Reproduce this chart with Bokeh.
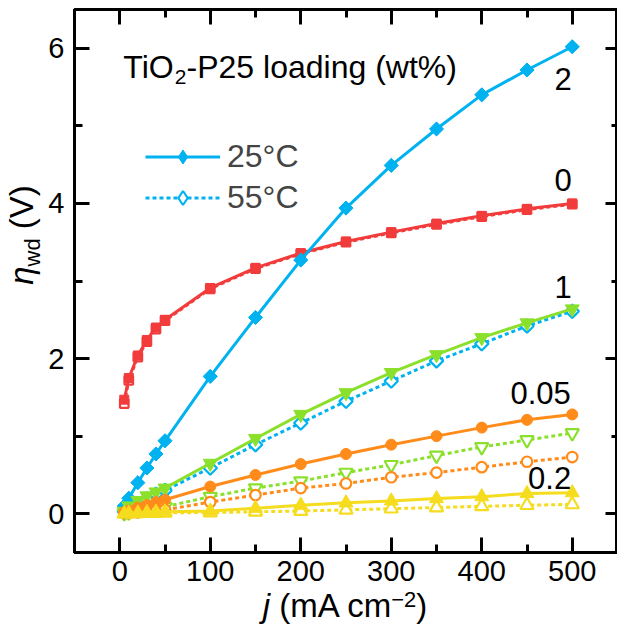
import numpy as np
from bokeh.plotting import figure
from bokeh.layouts import row, column
from bokeh.models import (Range1d, LinearAxis, SingleIntervalTicker, Label,
                          Legend, LegendItem, Div, CustomJSTickFormatter)
from bokeh.embed import file_html
from bokeh.resources import INLINE

# ---------------- data ----------------
j_mA_cm2 = [5, 10, 20, 30, 40, 50, 100, 150, 200, 250, 300, 350, 400, 450, 500]

eta_0wt_25C = [1.47, 1.75, 2.04, 2.24, 2.40, 2.50, 2.91, 3.17, 3.36, 3.51, 3.63, 3.74, 3.84, 3.93, 4.00]
eta_0wt_55C = [1.42, 1.72, 2.02, 2.22, 2.38, 2.49, 2.90, 3.16, 3.35, 3.50, 3.62, 3.73, 3.83, 3.92, 3.99]
eta_2wt_25C = [0.10, 0.20, 0.40, 0.59, 0.77, 0.94, 1.77, 2.53, 3.27, 3.94, 4.49, 4.96, 5.40, 5.72, 6.02]
eta_2wt_55C = [0.03, 0.07, 0.13, 0.19, 0.25, 0.30, 0.59, 0.89, 1.17, 1.45, 1.71, 1.97, 2.19, 2.42, 2.61]
eta_1wt_25C = [0.03, 0.10, 0.17, 0.23, 0.28, 0.33, 0.65, 0.97, 1.28, 1.56, 1.82, 2.05, 2.27, 2.46, 2.64]
eta_1wt_55C = [0.01, 0.02, 0.04, 0.06, 0.08, 0.09, 0.22, 0.33, 0.42, 0.53, 0.63, 0.75, 0.86, 0.95, 1.04]
eta_005wt_25C = [0.02, 0.04, 0.08, 0.11, 0.15, 0.18, 0.35, 0.50, 0.64, 0.77, 0.89, 1.00, 1.11, 1.21, 1.28]
eta_005wt_55C = [0.005, 0.01, 0.02, 0.03, 0.04, 0.05, 0.15, 0.24, 0.33, 0.39, 0.47, 0.53, 0.60, 0.67, 0.73]
eta_02wt_25C = [0.0, 0.005, 0.01, 0.015, 0.02, 0.025, 0.035, 0.07, 0.11, 0.14, 0.165, 0.195, 0.22, 0.26, 0.27]
eta_02wt_55C = [0.0, 0.003, 0.005, 0.008, 0.01, 0.012, 0.015, 0.025, 0.035, 0.05, 0.065, 0.08, 0.095, 0.11, 0.12]

loading_labels = ["2", "0", "1", "0.05", "0.2"]
legend_labels = ["25°C", "55°C"]
title_parts = ["TiO", "2", "-P25 loading (wt%)"]
x_label_html = '<i>j</i> (mA cm<span style="font-size:22px;position:relative;top:-10px">\u22122</span>)'
y_label_html = '<i>\u03b7</i><span style="font-size:22px;position:relative;top:7px">wd</span> (V)'

# ---------------- styles ----------------
FONT = "Liberation Sans"
RED, BLUE, GREEN, ORANGE, YELLOW = "#F23C3C", "#00B2F0", "#8BE02C", "#FF8C1A", "#F5DC1E"

p = figure(width=573, height=593, x_range=Range1d(-50, 550), y_range=Range1d(-0.5, 6.5),
           output_backend="svg", toolbar_location=None,
           min_border_left=30, min_border_right=0, min_border_top=9, min_border_bottom=41)
p.background_fill_color = "white"
p.border_fill_color = "white"
p.xgrid.visible = False
p.ygrid.visible = False
p.outline_line_color = "black"
p.outline_line_width = 3


def style_axis(ax, tick_in, minor_in, labels=True):
    ax.axis_line_width = 3
    ax.axis_line_color = "black"
    ax.major_tick_in = tick_in
    ax.major_tick_out = 0
    ax.minor_tick_in = minor_in
    ax.minor_tick_out = 0
    ax.major_tick_line_width = 3
    ax.minor_tick_line_width = 3
    ax.major_tick_line_color = "black"
    ax.minor_tick_line_color = "black"
    ax.axis_label = None
    if labels:
        ax.major_label_text_font = FONT
        ax.major_label_text_font_size = "29px"
        ax.major_label_text_color = "black"
    else:
        ax.formatter = CustomJSTickFormatter(code="return ''")
        ax.major_label_text_font_size = "1px"
        ax.major_label_standoff = 0
        ax.axis_label_standoff = 0


p.xaxis[0].ticker = SingleIntervalTicker(interval=100, num_minor_ticks=2)
p.yaxis[0].ticker = SingleIntervalTicker(interval=2, num_minor_ticks=2)
style_axis(p.xaxis[0], 15, 8)
style_axis(p.yaxis[0], 15, 8)
p.xaxis[0].major_label_standoff = 8
p.yaxis[0].major_label_standoff = 10

top_ax = LinearAxis(ticker=SingleIntervalTicker(interval=100, num_minor_ticks=2))
style_axis(top_ax, 15, 8, labels=False)
p.add_layout(top_ax, "above")
right_ax = LinearAxis(ticker=SingleIntervalTicker(interval=2, num_minor_ticks=2))
style_axis(right_ax, 12, 6, labels=False)
p.add_layout(right_ax, "right")

# ---------------- series ----------------
series = [
    # (25C, 55C, color, marker, size, angle)
    (eta_0wt_25C, eta_0wt_55C, RED, "square", 9, 0.0),
    (eta_2wt_25C, eta_2wt_55C, BLUE, "square", 10, np.pi / 4),
    (eta_1wt_25C, eta_1wt_55C, GREEN, "inverted_triangle", 14, 0.0),
    (eta_005wt_25C, eta_005wt_55C, ORANGE, "circle", 11, 0.0),
    (eta_02wt_25C, eta_02wt_55C, YELLOW, "triangle", 14, 0.0),
]

legend_r = {}
for k, (cold, hot, color, marker, size, ang) in enumerate(series):
    ln = p.line(j_mA_cm2, hot, line_color=color, line_width=3, line_dash="4 3")
    if k == 1:
        # diamond glyph hidden under the rotated squares, used for the legend symbol
        dm = p.scatter(j_mA_cm2, hot, marker="diamond", size=12, line_color=color,
                       fill_color="white", line_width=2.2)
        legend_r[55] = [ln, dm]
    p.scatter(j_mA_cm2, hot, marker=marker, size=size * 0.95, angle=ang,
              line_color=color, fill_color="white", line_width=2.2)

for k, (cold, hot, color, marker, size, ang) in enumerate(series):
    ln = p.line(j_mA_cm2, cold, line_color=color, line_width=3)
    if k == 1:
        dm = p.scatter(j_mA_cm2, cold, marker="diamond", size=13, line_color=color,
                       fill_color=color, line_width=1)
        legend_r[25] = [ln, dm]
    p.scatter(j_mA_cm2, cold, marker=marker, size=size, angle=ang,
              line_color=color, fill_color=color, line_width=1)

legend = Legend(items=[LegendItem(label=legend_labels[0], renderers=legend_r[25]),
                       LegendItem(label=legend_labels[1], renderers=legend_r[55])],
                location=(71, 336), glyph_width=75, glyph_height=35, label_height=35,
                spacing=4, padding=0, margin=0, label_standoff=7,
                label_text_font=FONT, label_text_font_size="32px",
                border_line_color=None, background_fill_alpha=0)
p.add_layout(legend)

# ---------------- texts inside the frame ----------------
def lab(text, x, y, dx=0, dy=0, size="32px", align="left", baseline="alphabetic"):
    p.add_layout(Label(x=x, y=y, x_offset=dx, y_offset=dy, text=text,
                       text_font=FONT, text_font_size=size,
                       text_align=align, text_baseline=baseline, text_color="black"))

lab(loading_labels[0], 490, 5.6, size="31px", align="center", baseline="middle")
lab(loading_labels[1], 490, 4.30, size="31px", align="center", baseline="middle")
lab(loading_labels[2], 490, 2.92, size="31px", align="center", baseline="middle")
lab(loading_labels[3], 465, 1.56, size="31px", align="center", baseline="middle")
lab(loading_labels[4], 475, 0.46, size="31px", align="center", baseline="middle")

lab(title_parts[0], 4, 5.76)
lab(title_parts[1], 4, 5.76, dx=51.5, dy=-10, size="21px")
lab(title_parts[2], 4, 5.76, dx=63.2)

# ---------------- axis titles (rich text) ----------------
FONT_CSS = ("font-family:Liberation Sans,Arial,sans-serif;font-size:33px;"
            "line-height:1;color:black;white-space:nowrap;")
ydiv = Div(width=44, height=593, margin=0,
           text=('<div style="position:relative;width:44px;height:593px;">'
                 '<div style="position:absolute;left:21px;top:235px;'
                 'transform:translate(-50%,-50%) rotate(-90deg);' + FONT_CSS + '">'
                 + y_label_html + '</div></div>'))
xdiv = Div(width=617, height=31, margin=0,
           text=('<div style="position:relative;width:617px;height:31px;">'
                 '<div style="position:absolute;left:345px;top:-4px;'
                 'transform:translateX(-50%);' + FONT_CSS + '">'
                 + x_label_html + '</div></div>'))

layout = column(row(ydiv, p), xdiv)
open("out.html", "w").write(file_html(layout, INLINE))
